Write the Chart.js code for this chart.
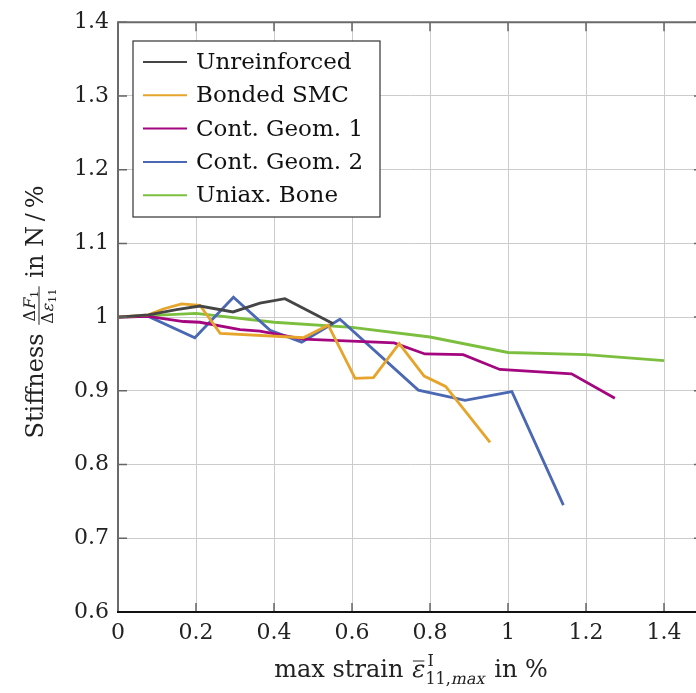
<!DOCTYPE html>
<html>
<head>
<meta charset="utf-8">
<script src="https://cdn.jsdelivr.net/npm/chart.js@4/dist/chart.umd.min.js"></script>
<style>
  html, body { margin: 0; padding: 0; background: #fff; overflow: hidden; }
  #wrap { width: 720px; height: 693px; }
</style>
</head>
<body>
<div id="wrap"><canvas id="stiffChart"></canvas></div>
<script>
// values
var xTicks = [0, 0.2, 0.4, 0.6, 0.8, 1, 1.2, 1.4];
var yTicks = [0.6, 0.7, 0.8, 0.9, 1, 1.1, 1.2, 1.3, 1.4];

var seriesNames = ['Unreinforced', 'Bonded SMC', 'Cont. Geom. 1', 'Cont. Geom. 2', 'Uniax. Bone'];
var seriesColors = ['#454545', '#e6a42a', '#a3067e', '#4a68b4', '#7cbf3f'];

var xUnreinforced = [0, 0.078, 0.15, 0.21, 0.295, 0.364, 0.428, 0.552];
var yUnreinforced = [1, 1.003, 1.010, 1.015, 1.007, 1.019, 1.025, 0.991];

var xBonded = [0, 0.078, 0.116, 0.163, 0.21, 0.262, 0.441, 0.475, 0.539, 0.608, 0.655, 0.721, 0.785, 0.84, 0.954];
var yBonded = [1, 1.003, 1.011, 1.018, 1.016, 0.978, 0.973, 0.972, 0.989, 0.917, 0.918, 0.964, 0.920, 0.906, 0.830];

var xGeom1 = [0, 0.078, 0.168, 0.21, 0.313, 0.364, 0.475, 0.708, 0.787, 0.885, 0.979, 1.163, 1.274];
var yGeom1 = [1, 1.001, 0.994, 0.993, 0.983, 0.981, 0.970, 0.965, 0.950, 0.949, 0.929, 0.923, 0.890];

var xGeom2 = [0, 0.078, 0.197, 0.296, 0.39, 0.471, 0.569, 0.77, 0.89, 1.01, 1.142];
var yGeom2 = [1, 1.001, 0.972, 1.027, 0.982, 0.966, 0.997, 0.901, 0.887, 0.899, 0.745];

var xBone = [0, 0.2, 0.4, 0.6, 0.8, 1, 1.2, 1.4];
var yBone = [1, 1.005, 0.993, 0.986, 0.973, 0.952, 0.949, 0.941];

function pts(xs, ys) {
  return xs.map(function (x, i) { return { x: x, y: ys[i] }; });
}

var allX = [xUnreinforced, xBonded, xGeom1, xGeom2, xBone];
var allY = [yUnreinforced, yBonded, yGeom1, yGeom2, yBone];

var FONT = 'DejaVu Serif';
Chart.defaults.font.family = FONT;
Chart.defaults.font.size = 22;
Chart.defaults.color = '#222';

function f(px) { return px + 'px "' + FONT + '"'; }

// slanted text, the italic face may be missing
function itText(ctx, t, x, y, font) {
  ctx.save();
  ctx.font = font;
  ctx.translate(x, y);
  ctx.transform(1, 0, -0.22, 1, 0, 0);
  ctx.fillText(t, 0, 0);
  ctx.restore();
}

// frame, inward ticks, legend box and the two axis titles
var decor = {
  id: 'decor',
  afterDraw: function (chart) {
    var ctx = chart.ctx, a = chart.chartArea;
    var xs = chart.scales.x, ys = chart.scales.y;
    ctx.save();

    // inner tick marks
    ctx.strokeStyle = '#666';
    ctx.lineWidth = 1.5;
    xTicks.forEach(function (v) {
      var px = xs.getPixelForValue(v);
      ctx.beginPath();
      ctx.moveTo(px, a.bottom); ctx.lineTo(px, a.bottom - 9);
      ctx.moveTo(px, a.top); ctx.lineTo(px, a.top + 9);
      ctx.stroke();
    });
    yTicks.forEach(function (v) {
      var py = ys.getPixelForValue(v);
      ctx.beginPath();
      ctx.moveTo(a.left, py); ctx.lineTo(a.left + 9, py);
      ctx.moveTo(a.right, py); ctx.lineTo(a.right - 9, py);
      ctx.stroke();
    });

    // frame
    ctx.strokeStyle = '#6a6a6a';
    ctx.lineWidth = 2;
    ctx.beginPath();
    ctx.moveTo(a.left, a.bottom); ctx.lineTo(a.left, a.top);
    ctx.lineTo(a.right, a.top); ctx.lineTo(a.right, a.bottom);
    ctx.stroke();
    ctx.strokeStyle = '#111';
    ctx.beginPath();
    ctx.moveTo(a.left - 1, a.bottom); ctx.lineTo(a.right, a.bottom);
    ctx.stroke();

    // legend
    var bx = 133, by = 41, bw = 247, bh = 176;
    ctx.fillStyle = '#fff';
    ctx.fillRect(bx, by, bw, bh);
    ctx.strokeStyle = '#333';
    ctx.lineWidth = 1.2;
    ctx.strokeRect(bx, by, bw, bh);
    ctx.font = f(23);
    ctx.textBaseline = 'middle';
    ctx.textAlign = 'left';
    chart.data.datasets.forEach(function (ds, i) {
      var ry = 62 + i * 33.3;
      ctx.strokeStyle = ds.borderColor;
      ctx.lineWidth = 2;
      ctx.beginPath();
      ctx.moveTo(143, ry); ctx.lineTo(187, ry);
      ctx.stroke();
      ctx.fillStyle = '#111';
      ctx.fillText(ds.label, 196, ry + 1);
    });

    function w(t, font) { ctx.font = font; return ctx.measureText(t).width; }

    // x-axis title: max strain ε̄^I_{11,max} in %
    ctx.fillStyle = '#222';
    ctx.strokeStyle = '#222';
    ctx.textBaseline = 'alphabetic';
    var big = f(24), sm = f(16);
    var t1 = 'max strain ', t3 = ' in %';
    var wEps = w('ε', big);
    var wSub = w('11,', sm) + w('max', sm) + 2;
    var wSup = w('I', sm) + 2;
    var total = w(t1, big) + wEps + 1 + Math.max(wSub, wSup) + w(t3, big);
    var cx = (a.left + a.right) / 2 - total / 2, base = 677;
    ctx.font = big; ctx.fillText(t1, cx, base); cx += w(t1, big);
    itText(ctx, 'ε', cx, base, big);
    ctx.lineWidth = 1;
    ctx.beginPath(); ctx.moveTo(cx + 2, base - 16); ctx.lineTo(cx + wEps + 1, base - 16); ctx.stroke();
    cx += wEps + 2;
    ctx.font = sm; ctx.fillText('I', cx + 2, base - 11);
    ctx.fillText('11,', cx, base + 7);
    itText(ctx, 'max', cx + w('11,', sm), base + 7, sm);
    cx += Math.max(wSub, wSup);
    ctx.font = big; ctx.fillText(t3, cx, base);

    // y-axis title: Stiffness ΔF_1/Δε_11 in N/%
    ctx.save();
    ctx.translate(43, 312);
    ctx.rotate(-Math.PI / 2);
    var s1 = 'Stiffness ', s3 = ' in N\u2009/\u2009%';
    var fr = f(16), tiny = f(11.5);
    var wNum = w('Δ', fr) + w('F', fr) + w('1', tiny) + 2;
    var wDen = w('Δ', fr) + w('ε', fr) + w('11', tiny) + 2;
    var wFr = Math.max(wNum, wDen) + 4;
    var tot = w(s1, big) + wFr + w(s3, big);
    var u = -tot / 2;
    ctx.font = big; ctx.fillText(s1, u, 0); u += w(s1, big);
    // numerator
    var nu = u + (wFr - wNum) / 2;
    ctx.font = fr; ctx.fillText('Δ', nu, -8); nu += w('Δ', fr);
    itText(ctx, 'F', nu, -8, fr); nu += w('F', fr) + 1;
    ctx.font = tiny; ctx.fillText('1', nu, -5);
    // bar
    ctx.lineWidth = 1;
    ctx.beginPath(); ctx.moveTo(u + 1, -4); ctx.lineTo(u + wFr - 1, -4); ctx.stroke();
    // denominator
    var du = u + (wFr - wDen) / 2;
    ctx.font = fr; ctx.fillText('Δ', du, 10); du += w('Δ', fr);
    itText(ctx, 'ε', du, 10, fr); du += w('ε', fr) + 1;
    ctx.font = tiny; ctx.fillText('11', du, 13);
    u += wFr;
    ctx.font = big; ctx.fillText(s3, u, 0);
    ctx.restore();

    ctx.restore();
  }
};

var ctx = document.getElementById('stiffChart');
var stiffChart = new Chart(ctx, {
  type: 'line',
  data: {
    datasets: seriesNames.map(function (name, i) {
      return {
        label: name,
        data: pts(allX[i], allY[i]),
        borderColor: seriesColors[i],
        backgroundColor: seriesColors[i],
        borderWidth: 2.8,
        pointRadius: 0,
        tension: 0,
        fill: false
      };
    })
  },
  options: {
    responsive: true,
    maintainAspectRatio: false,
    animation: false,
    layout: { padding: { top: 22, right: 17, left: 0, bottom: 0 } },
    plugins: { legend: { display: false }, tooltip: { enabled: false } },
    scales: {
      x: {
        type: 'linear',
        min: 0,
        max: 1.5,
        afterBuildTicks: function (s) { s.ticks = xTicks.map(function (v) { return { value: v }; }); },
        afterFit: function (s) { s.height = 81; },
        grid: { color: '#cccccc', lineWidth: 1, drawTicks: false },
        border: { display: false },
        ticks: { padding: 8, color: '#222', maxRotation: 0, callback: function (v) { return String(v); } }
      },
      y: {
        type: 'linear',
        min: 0.6,
        max: 1.4,
        afterBuildTicks: function (s) { s.ticks = yTicks.map(function (v) { return { value: v }; }); },
        afterFit: function (s) { s.width = 118; },
        grid: { color: '#cccccc', lineWidth: 1, drawTicks: false },
        border: { display: false },
        ticks: { padding: 9, color: '#222', callback: function (v) { return String(v); } }
      }
    }
  },
  plugins: [decor]
});
</script>
</body>
</html>
